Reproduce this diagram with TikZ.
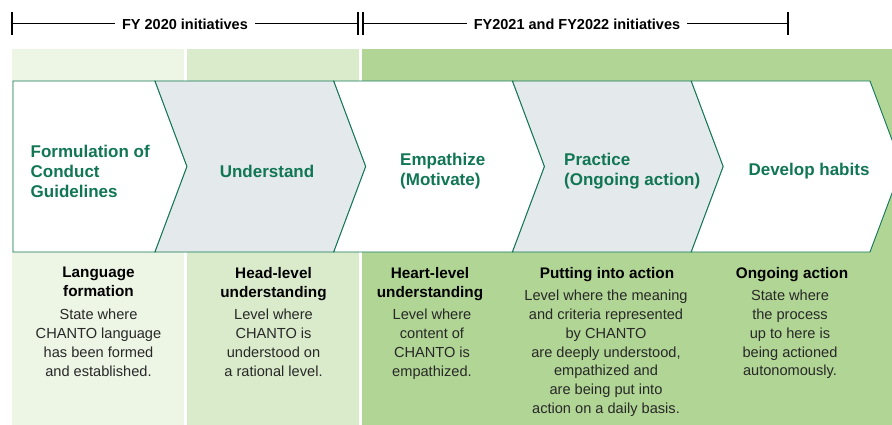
\documentclass[tikz,border=0pt]{standalone}
\usepackage{fontspec}
\setmainfont{Liberation Sans}
\definecolor{bandA}{RGB}{237,245,229}
\definecolor{bandB}{RGB}{218,235,203}
\definecolor{bandC}{RGB}{176,213,148}
\definecolor{chevgray}{RGB}{228,233,235}
\definecolor{dkgreen}{RGB}{16,118,84}
\definecolor{txtgray}{RGB}{40,40,40}
\tikzset{
  chev/.style={draw=dkgreen, line width=0.9pt, line join=miter},
  ttl/.style={text=dkgreen, font=\bfseries\fontsize{17}{20}\selectfont, align=left, inner sep=0pt},
  hdr/.style={font=\bfseries\fontsize{14.5}{17}\selectfont, inner sep=7pt},
  bhead/.style={font=\bfseries\fontsize{15.3}{19}\selectfont, align=center, inner sep=0pt, anchor=north},
  body/.style={text=txtgray, font=\fontsize{14.6}{18.8}\selectfont, align=center, inner sep=0pt, anchor=north},
  rule/.style={line width=1.1pt, black},
}
\begin{document}
\begin{tikzpicture}[x=1pt,y=-1pt]
\useasboundingbox (0,0) rectangle (892,425);
\clip (0,0) rectangle (892,425);
% bands
\fill[bandA] (12,49) rectangle (184,425);
\fill[bandB] (187,49) rectangle (359,425);
\fill[bandC] (362,49) rectangle (892,425);
% header
\coordinate (t0a) at (12,12); \coordinate (t0b) at (12,35);
\coordinate (t1a) at (358,12); \coordinate (t1b) at (358,35);
\coordinate (t2a) at (363,12); \coordinate (t2b) at (363,35);
\coordinate (t3a) at (788,12); \coordinate (t3b) at (788,35);
\coordinate (h0) at (12,23.5); \coordinate (h1) at (358,23.5);
\coordinate (h2) at (363,23.5); \coordinate (h3) at (788,23.5);
\node[hdr] (fy20) at (185,24.5) {FY 2020 initiatives};
\node[hdr] (fy21) at (577,24.5) {FY2021 and FY2022 initiatives};
\draw[rule] (t0a) -- (t0b); \draw[rule] (t1a) -- (t1b);
\draw[rule] (t2a) -- (t2b); \draw[rule] (t3a) -- (t3b);
\draw[rule] (h0) -- (h0 -| fy20.west); \draw[rule] (h1 -| fy20.east) -- (h1);
\draw[rule] (h2) -- (h2 -| fy21.west); \draw[rule] (h3 -| fy21.east) -- (h3);
% chevrons
\draw[chev, fill=white] (13,81) -- (155,81) -- (187,166.5) -- (155,252) -- (13,252) -- cycle;
\draw[chev, fill=chevgray] (155,81) -- (333.75,81) -- (365.75,166.5) -- (333.75,252) -- (155,252) -- (187,166.5) -- cycle;
\draw[chev, fill=white] (333.75,81) -- (512.5,81) -- (544.5,166.5) -- (512.5,252) -- (333.75,252) -- (365.75,166.5) -- cycle;
\draw[chev, fill=chevgray] (512.5,81) -- (691.25,81) -- (723.25,166.5) -- (691.25,252) -- (512.5,252) -- (544.5,166.5) -- cycle;
\draw[chev, fill=white] (691.25,81) -- (870,81) -- (902,166.5) -- (870,252) -- (691.25,252) -- (723.25,166.5) -- cycle;
% chevron titles
\node[ttl, anchor=west] (c1) at (30.5,171) {Formulation of\\Conduct\\Guidelines};
\node[ttl] (c2) at (267,171) {Understand};
\node[ttl, anchor=west] (c3) at (400,171.5) {Empathize\\(Motivate)};
\node[ttl, anchor=west] (c4) at (564,171.5) {Practice\\(Ongoing action)};
\node[ttl] (c5) at (809,171) {Develop habits};
% bottom texts
\node[bhead] (b1) at (98.5,267) {Language\\formation};
\node[body] (d1) at (98.5,309) {State where\\CHANTO language\\has been formed\\and established.};
\node[bhead] (b2) at (273.5,267) {Head-level\\understanding};
\node[body] (d2) at (273.5,309) {Level where\\CHANTO is\\understood on\\a rational level.};
\node[bhead] (b3) at (430,267) {Heart-level\\understanding};
\node[body] (d3) at (432,309) {Level where\\content of\\CHANTO is\\empathized.};
\node[bhead] (b4) at (607,267) {Putting into action};
\node[body] (d4) at (606,290) {Level where the meaning\\and criteria represented\\by CHANTO\\are deeply understood,\\empathized and\\are being put into\\action on a daily basis.};
\node[bhead] (b5) at (792,267) {Ongoing action};
\node[body] (d5) at (790,290) {State where\\the process\\up to here is\\being actioned\\autonomously.};
\end{tikzpicture}
\end{document}
